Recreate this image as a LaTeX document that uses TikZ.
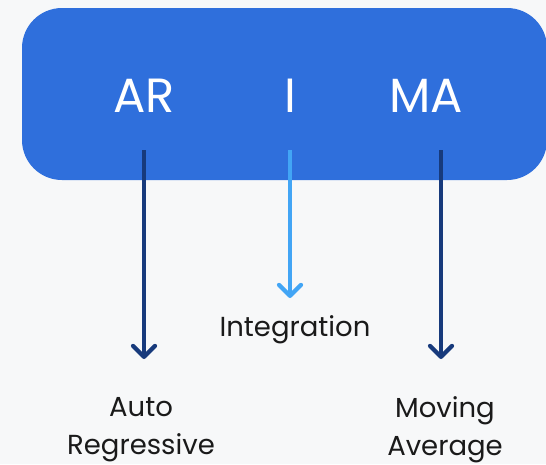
\documentclass[tikz,border=0pt]{standalone}
\usepackage{fontspec}
\setmainfont{Poppins}
\usetikzlibrary{arrows.meta}
\definecolor{bg}{HTML}{F7F8F9}
\definecolor{boxblue}{HTML}{2F6FDC}
\definecolor{darkarrow}{HTML}{173A7C}
\definecolor{lightarrow}{HTML}{42A5F5}
\definecolor{txt}{HTML}{1A1A1A}
\begin{document}
\begin{tikzpicture}[x=1pt,y=-1pt,
  big/.style={text=white,font=\fontsize{48}{54}\selectfont,inner sep=0pt,anchor=base},
  lbl/.style={text=txt,font=\fontsize{27.5}{38}\selectfont,align=center,inner sep=0pt},
  arr/.style={line width=4.2pt,-{Straight Barb[length=11pt,width=22pt,line width=4.2pt,round]}}]
\fill[bg] (0,0) rectangle (546,464);
\useasboundingbox (0,0) rectangle (546,464);
\fill[boxblue,rounded corners=40pt] (22,8) rectangle (547,180);
\node[big] (ar) at (144,112) {AR};
\node[big] (i) at (290,112) {I};
\node[big] (ma) at (426,112) {MA};
\coordinate (ars) at (144,150);
\coordinate (is) at (290,150);
\coordinate (mas) at (441,150);
\coordinate (are) at (144,359);
\coordinate (ie) at (290,298);
\coordinate (mae) at (441,359);
\draw[arr,darkarrow] (ars) -- (are);
\draw[arr,lightarrow] (is) -- (ie);
\draw[arr,darkarrow] (mas) -- (mae);
\node[lbl] (integ) at (295,330) {Integration};
\node[lbl] (auto) at (141,430) {Auto\\Regressive};
\node[lbl] (mov) at (445,430) {Moving\\Average};
\end{tikzpicture}
\end{document}
